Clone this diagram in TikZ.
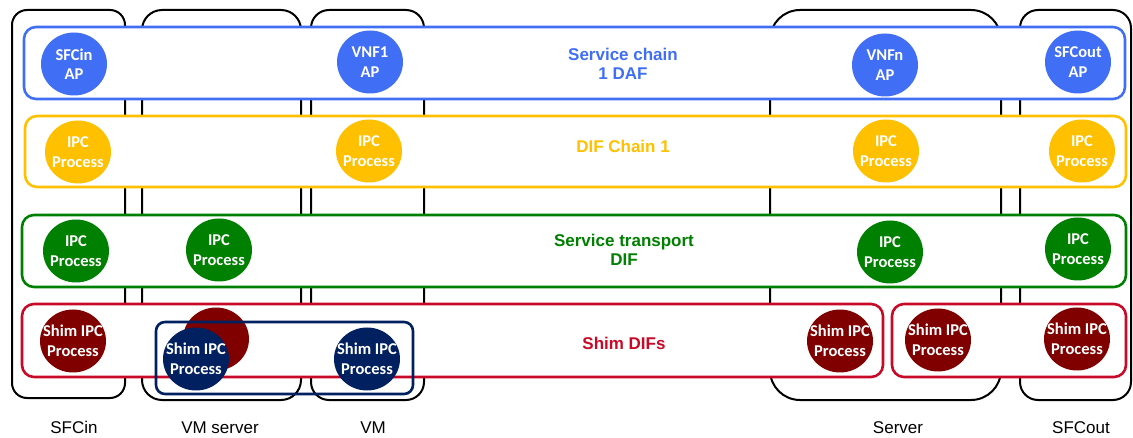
\documentclass[tikz,border=0pt]{standalone}
\usepackage{fontspec}
\setmainfont{Liberation Sans}
\newfontfamily\calfont{Carlito}
\usetikzlibrary{shapes.geometric}

\definecolor{dafblue}{RGB}{64,110,245}
\definecolor{difyellow}{RGB}{255,192,0}
\definecolor{difgreen}{RGB}{0,128,0}
\definecolor{shimred}{RGB}{200,10,40}
\definecolor{shimdark}{RGB}{128,0,0}
\definecolor{navy}{RGB}{0,32,96}

\begin{document}
\begin{tikzpicture}[x=1pt,y=-1pt,
  host/.style={draw=black, line width=2pt},
  band/.style={line width=2.6pt, fill=white, rounded corners=12pt},
  proc/.style={ellipse, minimum width=66pt, minimum height=63pt,
    inner xsep=-10pt, inner ysep=0pt,
    text=white, align=center, font=\calfont\bfseries\fontsize{16.5}{19.5}\selectfont},
  bandlabel/.style={align=center, font=\bfseries\fontsize{17}{19}\selectfont},
  hostlabel/.style={anchor=base, font=\fontsize{17}{20}\selectfont}]
\useasboundingbox (0,0) rectangle (1133,438);

% physical hosts
\draw[host, rounded corners=15pt] (12,10) rectangle (125,398);
\draw[host, rounded corners=20pt] (142,10) rectangle (301,400);
\draw[host, rounded corners=18pt] (311,10) rectangle (424,400);
\draw[host, rounded corners=30pt] (770,10) rectangle (1001,400);
\draw[host, rounded corners=18pt] (1020,10) rectangle (1131,400);

% layers
\draw[band, draw=dafblue]    (24,27)  rectangle (1125,99);
\draw[band, draw=difyellow]  (25,116) rectangle (1126,187);
\draw[band, draw=difgreen]   (22,215) rectangle (1126,287);
\draw[band, draw=shimred]    (22,304) rectangle (883,377);
\draw[band, draw=shimred]    (892,304) rectangle (1126,377);

% layer names
\node[bandlabel, text=dafblue]   (lbldaf)   at (623,64)  {Service chain\\1 DAF};
\node[bandlabel, text=difyellow] (lblchain) at (623,146) {DIF Chain 1};
\node[bandlabel, text=difgreen]  (lbltrans) at (624,250) {Service transport\\DIF};
\node[bandlabel, text=shimred]   (lblshim)  at (624,343) {Shim DIFs};

% application processes
\node[proc, fill=dafblue] (apin)  at (74,64)   {SFCin\\AP};
\node[proc, fill=dafblue] (ap1)   at (370,62)  {VNF1\\AP};
\node[proc, fill=dafblue] (apn)   at (885,65)  {VNFn\\AP};
\node[proc, fill=dafblue] (apout) at (1078,62) {SFCout\\AP};

% chain DIF members
\node[proc, fill=difyellow] (chin)  at (78,152)   {IPC\\Process};
\node[proc, fill=difyellow] (ch1)   at (369,151)  {IPC\\Process};
\node[proc, fill=difyellow] (chn)   at (886,151)  {IPC\\Process};
\node[proc, fill=difyellow] (chout) at (1082,151) {IPC\\Process};

% transport DIF members
\node[proc, fill=difgreen] (trin)  at (76,251)   {IPC\\Process};
\node[proc, fill=difgreen] (trvm)  at (219,250)  {IPC\\Process};
\node[proc, fill=difgreen] (trsv)  at (890,252)  {IPC\\Process};
\node[proc, fill=difgreen] (trout) at (1078,249) {IPC\\Process};

% shim DIF members
\node[proc, fill=shimdark] (shin)  at (73,341)   {Shim IPC\\Process};
\node[proc, fill=shimdark] (shvm)  at (216,339)  {};
\node[proc, fill=shimdark] (shsv)  at (840,341)  {Shim IPC\\Process};
\node[proc, fill=shimdark] (shsv2) at (938,340)  {Shim IPC\\Process};
\node[proc, fill=shimdark] (shout) at (1077,339) {Shim IPC\\Process};

% virtual shim between VM server and VM
\draw[navy, line width=2.6pt, rounded corners=9pt] (156,322) rectangle (413,394);
\node[proc, fill=navy] (vshs) at (196,359) {Shim IPC\\Process};
\node[proc, fill=navy] (vshv) at (367,359) {Shim IPC\\Process};

% host names
\node[hostlabel] (hin)  at (74,433)   {SFCin};
\node[hostlabel] (hvms) at (220,433)  {VM server};
\node[hostlabel] (hvm)  at (373,433)  {VM};
\node[hostlabel] (hsv)  at (898,433)  {Server};
\node[hostlabel] (hout) at (1081,433) {SFCout};
\end{tikzpicture}
\end{document}
